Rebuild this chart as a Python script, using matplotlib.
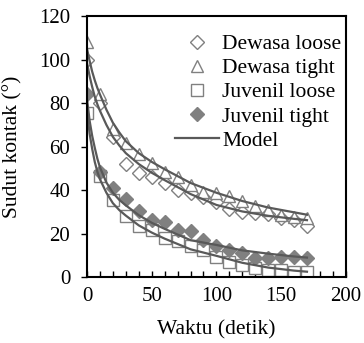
import numpy as np
import matplotlib
matplotlib.use("Agg")
import matplotlib.pyplot as plt
from matplotlib.ticker import MultipleLocator

plt.rcParams['font.family'] = ['Liberation Serif', 'DejaVu Serif']

# measured data (contact angle vs time)
waktu = [0, 10, 20, 30, 40, 50, 60, 70, 80, 90, 100, 110, 120, 130, 140, 150, 160, 170]
dewasa_loose = [100, 80, 64.5, 52, 48, 46, 43.5, 40, 38.5, 37, 34.6, 31.3, 30, 29.6, 29, 27.4, 26.5, 23.4]
dewasa_tight = [108, 84, 68, 61.5, 56.5, 52.5, 48.4, 46.2, 42.5, 39, 38.7, 37.2, 35, 32.8, 30.8, 28.5, 27.7, 27]
juvenil_loose = [75.5, 46.4, 35.4, 28, 23.4, 21.6, 18.2, 16.7, 14.3, 12.4, 9.3, 7, 5.5, 4, 3.5, 3.2, 2.5, 2.2]
juvenil_tight = [84, 48.4, 40.8, 35.7, 30.5, 26.5, 25.4, 21.9, 21.3, 17.3, 14.3, 12.4, 11.2, 9, 8.6, 9.3, 9.3, 8.6]

# model curves
t_model = [0, 2, 4, 6, 8, 10, 15, 20, 25, 30, 40, 50, 60, 80, 100, 120, 140, 160, 170]
model_dewasa_tight = [105, 99.5, 94.5, 90.5, 87, 84, 77, 71, 66.5, 62.5, 57, 53, 49.6, 43.3, 38.8, 35, 32, 29.8, 28.7]
model_dewasa_loose = [98.5, 92.5, 87.5, 83, 79.5, 76.5, 70, 64.5, 60.5, 57, 52, 48, 44.6, 38.2, 33.2, 30.2, 28.2, 26.8, 26.2]
model_juvenil_tight = [82, 72, 65, 59.5, 54.5, 50.5, 43.5, 38.8, 35.5, 33, 28.5, 25, 22.2, 17, 14.8, 12.3, 10.8, 9.5, 9.0]
model_juvenil_loose = [77, 66, 59, 53, 48.5, 45, 38.8, 34, 30.8, 28.3, 23.8, 20.5, 17.7, 12.8, 9.8, 6.6, 4.4, 3.0, 2.5]

abu = '#808080'
garis = '#595959'

fig = plt.figure(figsize=(3.64, 3.43), dpi=100)
ax = fig.add_axes([0.239, 0.192, 0.711, 0.761])

ax.plot(waktu, dewasa_loose, 'D', ms=7, mfc='white', mec=abu, mew=1, ls='none', label='Dewasa loose')
ax.plot(waktu, dewasa_tight, '^', ms=8, mfc='white', mec=abu, mew=1, ls='none', label='Dewasa tight')
ax.plot(waktu, juvenil_loose, 's', ms=8.5, mfc='white', mec=abu, mew=1, ls='none', label='Juvenil loose')
ax.plot(waktu, juvenil_tight, 'D', ms=7, mfc=abu, mec=abu, mew=1, ls='none', label='Juvenil tight')

ax.plot(t_model, model_dewasa_tight, color=garis, lw=1.6, label='Model')
ax.plot(t_model, model_dewasa_loose, color=garis, lw=1.6)
ax.plot(t_model, model_juvenil_tight, color=garis, lw=1.6)
ax.plot(t_model, model_juvenil_loose, color=garis, lw=1.6)

ax.set_xlim(0, 200)
ax.set_ylim(0, 120)
ax.xaxis.set_major_locator(MultipleLocator(50))
ax.xaxis.set_minor_locator(MultipleLocator(10))
ax.yaxis.set_major_locator(MultipleLocator(20))
ax.tick_params(axis='x', which='both', direction='in', length=4, width=1, labelsize=15, pad=7)
ax.tick_params(axis='y', direction='out', length=4, width=1, labelsize=15, pad=8)
for sp in ax.spines.values():
    sp.set_linewidth(1.5)

ax.set_xlabel('Waktu (detik)', fontsize=15.5, labelpad=10)
ax.set_ylabel('Sudut kontak (°)', fontsize=15.5, labelpad=12)

ax.legend(loc='upper right', frameon=False, fontsize=15.5, handlelength=2.05,
          handletextpad=0.15, labelspacing=0.19, borderaxespad=0.0,
          borderpad=0.2, bbox_to_anchor=(1.0, 0.948))

fig.savefig('out.png', dpi=100)
